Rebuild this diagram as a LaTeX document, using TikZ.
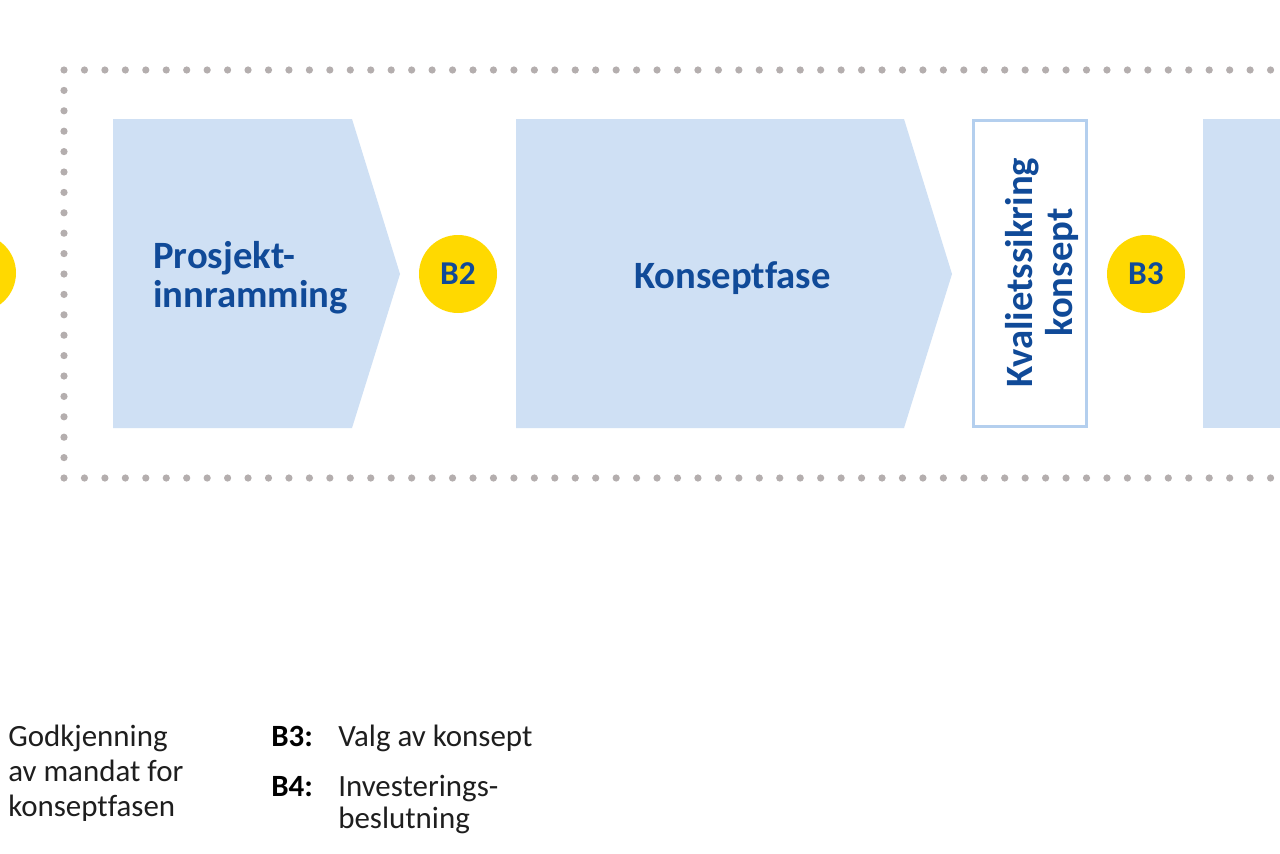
\documentclass[tikz,border=0pt]{standalone}
\usepackage{fontspec}
\setmainfont{Carlito}[Ligatures={NoCommon}]
\definecolor{phasefill}{RGB}{207,224,244}
\definecolor{phaseborder}{RGB}{180,207,238}
\definecolor{textblue}{RGB}{16,74,152}
\definecolor{gateyellow}{RGB}{255,217,0}
\definecolor{dotgray}{RGB}{180,174,174}
\definecolor{bodytext}{RGB}{30,30,30}
\tikzset{
  phase/.style={fill=phasefill, draw=none},
  gate/.style={circle, fill=gateyellow, draw=none, minimum size=78*0.75pt, inner sep=0pt,
    text=textblue, font=\fontsize{25}{28}\selectfont\bfseries},
  bigtext/.style={inner sep=0pt, text=textblue, font=\fontsize{29}{29.5}\selectfont\bfseries},
  legendtext/.style={inner sep=0pt, text=bodytext, font=\fontsize{23.2}{26.25}\selectfont},
  legendkey/.style={inner sep=0pt, text=black, font=\fontsize{23.2}{26.25}\selectfont\bfseries},
}
\begin{document}
\begin{tikzpicture}[x=0.75pt,y=-0.75pt]
\useasboundingbox (0,0) rectangle (1280,853);
\clip (0,0) rectangle (1280,853);
\fill[white] (0,0) rectangle (1280,853);
% dotted frame
\foreach \i in {0,...,60} {
  \fill[dotgray] (64+\i*20.45,70) circle (3.6);
  \fill[dotgray] (64+\i*20.45,478) circle (3.6);
}
\foreach \i in {1,...,19} {
  \fill[dotgray] (64,70+\i*20.4) circle (3.6);
}
% left partial gate
\node[gate] (b1) at (-23,273) {};
% Prosjektinnramming chevron
\path[phase] (113,119) -- (352,119) -- (400,274) -- (352,428) -- (113,428) -- cycle;
\node[bigtext, anchor=base west] (proj) at (153,268)
  {\baselineskip=29.5pt\vtop{\hbox{Prosjekt-}\hbox{innramming}}};
% B2
\node[gate] (b2) at (458,274) {B2};
% Konseptfase chevron
\path[phase] (516,119) -- (904,119) -- (952,274) -- (904,428) -- (516,428) -- cycle;
\node[bigtext, anchor=base west] (konsept) at (634,288) {Konseptfase};
% Kvalitetssikring box
\draw[phaseborder, line width=2.3pt, fill=white] (973.5,120.5) rectangle (1086.5,426.5);
\node[bigtext, rotate=90, anchor=base] (kvs) at (1032,272.5)
  {\baselineskip=30pt\vtop{\halign{\hfil#\hfil\cr Kvalietssikring\cr konsept\cr}}};
% B3
\node[gate] (b3) at (1146,274) {B3};
% right partial phase
\path[phase] (1203,119) rectangle (1300,428);
% legend
\node[legendtext, anchor=base west] (l1) at (8,746)
  {\baselineskip=26.25pt\vtop{\hbox{Godkjenning}\hbox{av mandat for}\hbox{konseptfasen}}};
\node[legendkey, anchor=base west] (k3) at (271,746) {B3:};
\node[legendtext, anchor=base west] (l3) at (338,746) {Valg av konsept};
\node[legendkey, anchor=base west] (k4) at (271,796) {B4:};
\node[legendtext, anchor=base west] (l4) at (338,796)
  {\baselineskip=24pt\vtop{\hbox{Investerings-}\hbox{beslutning}}};
\end{tikzpicture}
\end{document}
